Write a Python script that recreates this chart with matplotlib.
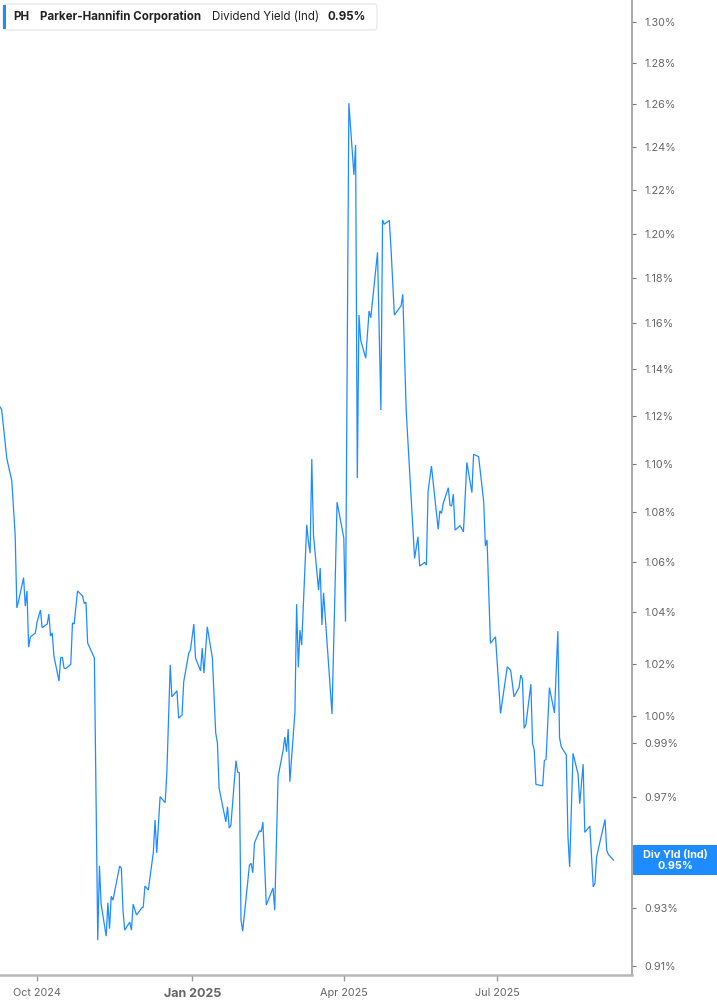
import matplotlib
matplotlib.use("Agg")
import matplotlib.pyplot as plt
import matplotlib.ticker as mticker
from matplotlib.patches import FancyBboxPatch, Rectangle
import pandas as pd

plt.rcParams['font.family'] = ['Inter', 'DejaVu Sans']

# ---------------- data ----------------
dates = [
    "2024-09-09", "2024-09-10", "2024-09-13", "2024-09-16", "2024-09-18", "2024-09-19",
    "2024-09-20", "2024-09-23", "2024-09-24", "2024-09-25", "2024-09-26", "2024-09-27",
    "2024-09-30", "2024-10-01", "2024-10-03", "2024-10-04", "2024-10-07", "2024-10-08",
    "2024-10-09", "2024-10-10", "2024-10-11", "2024-10-14", "2024-10-15", "2024-10-16",
    "2024-10-17", "2024-10-18", "2024-10-21", "2024-10-22", "2024-10-23", "2024-10-25",
    "2024-10-28", "2024-10-29", "2024-10-30", "2024-10-31", "2024-11-04", "2024-11-06",
    "2024-11-07", "2024-11-08", "2024-11-11", "2024-11-12", "2024-11-13", "2024-11-14",
    "2024-11-15", "2024-11-19", "2024-11-20", "2024-11-21", "2024-11-22", "2024-11-25",
    "2024-11-26", "2024-11-27", "2024-11-29", "2024-12-02", "2024-12-03", "2024-12-04",
    "2024-12-06", "2024-12-09", "2024-12-10", "2024-12-11", "2024-12-13", "2024-12-16",
    "2024-12-17", "2024-12-19", "2024-12-20", "2024-12-23", "2024-12-24", "2024-12-26",
    "2024-12-27", "2024-12-30", "2024-12-31", "2025-01-02", "2025-01-03", "2025-01-06",
    "2025-01-07", "2025-01-08", "2025-01-10", "2025-01-13", "2025-01-15", "2025-01-16",
    "2025-01-17", "2025-01-21", "2025-01-22", "2025-01-23", "2025-01-24", "2025-01-27",
    "2025-01-28", "2025-01-29", "2025-01-30", "2025-01-31", "2025-02-04", "2025-02-05",
    "2025-02-06", "2025-02-07", "2025-02-10", "2025-02-11", "2025-02-12", "2025-02-14",
    "2025-02-18", "2025-02-19", "2025-02-21", "2025-02-24", "2025-02-25", "2025-02-26",
    "2025-02-27", "2025-02-28", "2025-03-03", "2025-03-04", "2025-03-05", "2025-03-06",
    "2025-03-07", "2025-03-10", "2025-03-11", "2025-03-12", "2025-03-13", "2025-03-14",
    "2025-03-17", "2025-03-18", "2025-03-19", "2025-03-20", "2025-03-25", "2025-03-28",
    "2025-04-01", "2025-04-02", "2025-04-04", "2025-04-07", "2025-04-08", "2025-04-09",
    "2025-04-10", "2025-04-11", "2025-04-14", "2025-04-16", "2025-04-17", "2025-04-21",
    "2025-04-23", "2025-04-24", "2025-04-25", "2025-04-28", "2025-04-29", "2025-05-01",
    "2025-05-05", "2025-05-06", "2025-05-08", "2025-05-09", "2025-05-13", "2025-05-15",
    "2025-05-16", "2025-05-19", "2025-05-20", "2025-05-21", "2025-05-23", "2025-05-27",
    "2025-05-28", "2025-05-29", "2025-05-30", "2025-06-02", "2025-06-03", "2025-06-04",
    "2025-06-05", "2025-06-06", "2025-06-09", "2025-06-11", "2025-06-13", "2025-06-16",
    "2025-06-17", "2025-06-20", "2025-06-23", "2025-06-24", "2025-06-25", "2025-06-27",
    "2025-06-30", "2025-07-03", "2025-07-07", "2025-07-09", "2025-07-11", "2025-07-14",
    "2025-07-15", "2025-07-16", "2025-07-17", "2025-07-18", "2025-07-21", "2025-07-22",
    "2025-07-23", "2025-07-24", "2025-07-28", "2025-07-29", "2025-07-30", "2025-08-01",
    "2025-08-04", "2025-08-06", "2025-08-07", "2025-08-08", "2025-08-11", "2025-08-12",
    "2025-08-13", "2025-08-15", "2025-08-18", "2025-08-19", "2025-08-21", "2025-08-22",
    "2025-08-25", "2025-08-27", "2025-08-28", "2025-08-29", "2025-09-03", "2025-09-04",
    "2025-09-05", "2025-09-08",
]

div_yield = [
    1.1239, 1.1228, 1.1024, 1.0929, 1.0708, 1.0417,
    1.0444, 1.0537, 1.0424, 1.0484, 1.0264, 1.0303,
    1.0319, 1.0362, 1.0409, 1.0340, 1.0354, 1.0393,
    1.0307, 1.0319, 1.0229, 1.0133, 1.0222, 1.0225,
    1.0183, 1.0181, 1.0198, 1.0358, 1.0354, 1.0484,
    1.0464, 1.0434, 1.0440, 1.0280, 1.0222, 0.9188,
    0.9450, 0.9314, 0.9202, 0.9319, 0.9228, 0.9342,
    0.9328, 0.9449, 0.9442, 0.9290, 0.9223, 0.9251,
    0.9223, 0.9314, 0.9276, 0.9300, 0.9304, 0.9378,
    0.9364, 0.9499, 0.9615, 0.9496, 0.9700, 0.9678,
    0.9787, 1.0195, 1.0073, 1.0096, 0.9992, 1.0004,
    1.0130, 1.0241, 1.0253, 1.0354, 1.0222, 1.0172,
    1.0260, 1.0164, 1.0343, 1.0222, 0.9936, 0.9899,
    0.9732, 0.9608, 0.9663, 0.9586, 0.9596, 0.9833,
    0.9791, 0.9788, 0.9258, 0.9220, 0.9452, 0.9459,
    0.9425, 0.9532, 0.9576, 0.9572, 0.9607, 0.9311,
    0.9371, 0.9293, 0.9773, 0.9872, 0.9921, 0.9866,
    0.9951, 0.9755, 1.0016, 1.0432, 1.0186, 1.0330,
    1.0272, 1.0749, 1.0681, 1.0635, 1.1020, 1.0708,
    1.0488, 1.0575, 1.0350, 1.0477, 1.0008, 1.0842,
    1.0696, 1.0363, 1.2606, 1.2269, 1.2409, 1.0941,
    1.1636, 1.1527, 1.1448, 1.1654, 1.1624, 1.1915,
    1.1226, 1.2062, 1.2042, 1.2060, 1.1934, 1.1636,
    1.1677, 1.1728, 1.1226, 1.1099, 1.0614, 1.0701,
    1.0583, 1.0598, 1.0587, 1.0885, 1.0991, 1.0731,
    1.0806, 1.0796, 1.0837, 1.0901, 1.0830, 1.0826,
    1.0875, 1.0728, 1.0746, 1.0721, 1.1006, 1.0881,
    1.1040, 1.1030, 1.0844, 1.0664, 1.0688, 1.0279,
    1.0304, 1.0010, 1.0188, 1.0175, 1.0073, 1.0109,
    1.0156, 1.0140, 0.9954, 0.9966, 1.0121, 0.9897,
    0.9872, 0.9745, 0.9740, 0.9833, 0.9838, 1.0108,
    1.0012, 1.0326, 0.9919, 0.9885, 0.9854, 0.9554,
    0.9446, 0.9860, 0.9783, 0.9674, 0.9820, 0.9570,
    0.9593, 0.9375, 0.9387, 0.9482, 0.9617, 0.9506,
    0.9491, 0.9470,
]

y_ticks = [0.91, 0.93, 0.95, 0.97, 0.99, 1.00, 1.02, 1.04, 1.06, 1.08, 1.10,
           1.12, 1.14, 1.16, 1.18, 1.20, 1.22, 1.24, 1.26, 1.28, 1.30]
hidden_tick = 0.95  # covered by the last-value label in the reference
x_tick_dates = ["2024-10-01", "2025-01-01", "2025-04-01", "2025-07-01"]
x_tick_labels = ["Oct 2024", "Jan 2025", "Apr 2025", "Jul 2025"]

ticker_sym = "PH"
company = "Parker-Hannifin Corporation"
metric = "Dividend Yield (Ind)"
last_label = "Div Yld (Ind)"
last_value = div_yield[-1]

# ---------------- figure ----------------
W, H = 717, 1005
LINE_BLUE = "#1e8cff"
fig = plt.figure(figsize=(W / 100, H / 100), dpi=100)
fig.patch.set_facecolor("white")

ax = fig.add_axes([0, 1 - 975 / H, 632 / W, 975 / H])
x = pd.to_datetime(dates)
ax.plot(x, div_yield, color=LINE_BLUE, lw=0.9, solid_joinstyle="miter")

ax.set_yscale("log")
ax.set_ylim(0.9068, 1.3107)
ax.set_xlim(pd.Timestamp("2024-09-09"), pd.Timestamp("2025-09-19"))

ax.yaxis.tick_right()
ax.yaxis.set_major_locator(mticker.FixedLocator(y_ticks))
ax.yaxis.set_minor_locator(mticker.NullLocator())
ax.yaxis.set_major_formatter(mticker.FixedFormatter(
    ["" if abs(t - hidden_tick) < 1e-9 else f"{t:.2f}%" for t in y_ticks]))

ax.set_xticks(pd.to_datetime(x_tick_dates))
ax.set_xticklabels(x_tick_labels)
ax.xaxis.set_minor_locator(mticker.NullLocator())

for side in ["top", "left"]:
    ax.spines[side].set_visible(False)
ax.spines["right"].set_color("#9c9c9c")
ax.spines["right"].set_linewidth(1.2)
ax.spines["bottom"].set_color("#b8b8b8")
ax.spines["bottom"].set_linewidth(1.8)

ax.tick_params(axis="y", which="major", direction="out", length=3, width=0.8,
               color="#777777", labelcolor="#666666", labelsize=7.8, pad=6)
ax.tick_params(axis="x", which="major", direction="out", length=4, width=1.0,
               color="#999999", labelcolor="#666666", labelsize=7.8, pad=5)
for lab in ax.get_xticklabels():
    if lab.get_text().startswith("Jan"):
        lab.set_fontweight("bold")
        lab.set_fontsize(9)

# ---------------- header legend ----------------
def fx(px):
    return px / W

def fy(py):
    return 1 - py / H

box = FancyBboxPatch((fx(3), fy(30)), fx(374), 26 / H,
                     boxstyle="round,pad=0,rounding_size=0.004",
                     transform=fig.transFigure, facecolor="white",
                     edgecolor="#e4e4e4", linewidth=0.8, zorder=5)
fig.patches.append(box)
bar = Rectangle((fx(3), fy(29)), fx(3), 24 / H, transform=fig.transFigure,
                facecolor=LINE_BLUE, edgecolor="none", zorder=6)
fig.patches.append(bar)

ty = fy(16.5)
fs_head = 8.3
fig.text(fx(13), ty, ticker_sym, fontsize=fs_head, fontweight="bold", color="#222222",
         ha="left", va="center", zorder=7)
fig.text(fx(40), ty, company, fontsize=fs_head, fontweight="bold", color="#222222",
         ha="left", va="center", zorder=7)
fig.text(fx(212), ty, metric, fontsize=fs_head, color="#222222",
         ha="left", va="center", zorder=7)
fig.text(fx(328), ty, f"{last_value:.2f}%", fontsize=fs_head, fontweight="bold",
         color="#222222", ha="left", va="center", zorder=7)

# ---------------- last value label ----------------
lab_box = Rectangle((fx(633), fy(875)), fx(717 - 633), 30 / H,
                    transform=fig.transFigure, facecolor=LINE_BLUE,
                    edgecolor="none", zorder=5)
fig.patches.append(lab_box)
fig.text(fx(675), fy(855), last_label, fontsize=7.8, fontweight="bold",
         color="white", ha="center", va="center", zorder=7)
fig.text(fx(675), fy(866), f"{last_value:.2f}%", fontsize=7.8, fontweight="bold",
         color="white", ha="center", va="center", zorder=7)

fig.savefig("out.png", dpi=100, facecolor="white")
